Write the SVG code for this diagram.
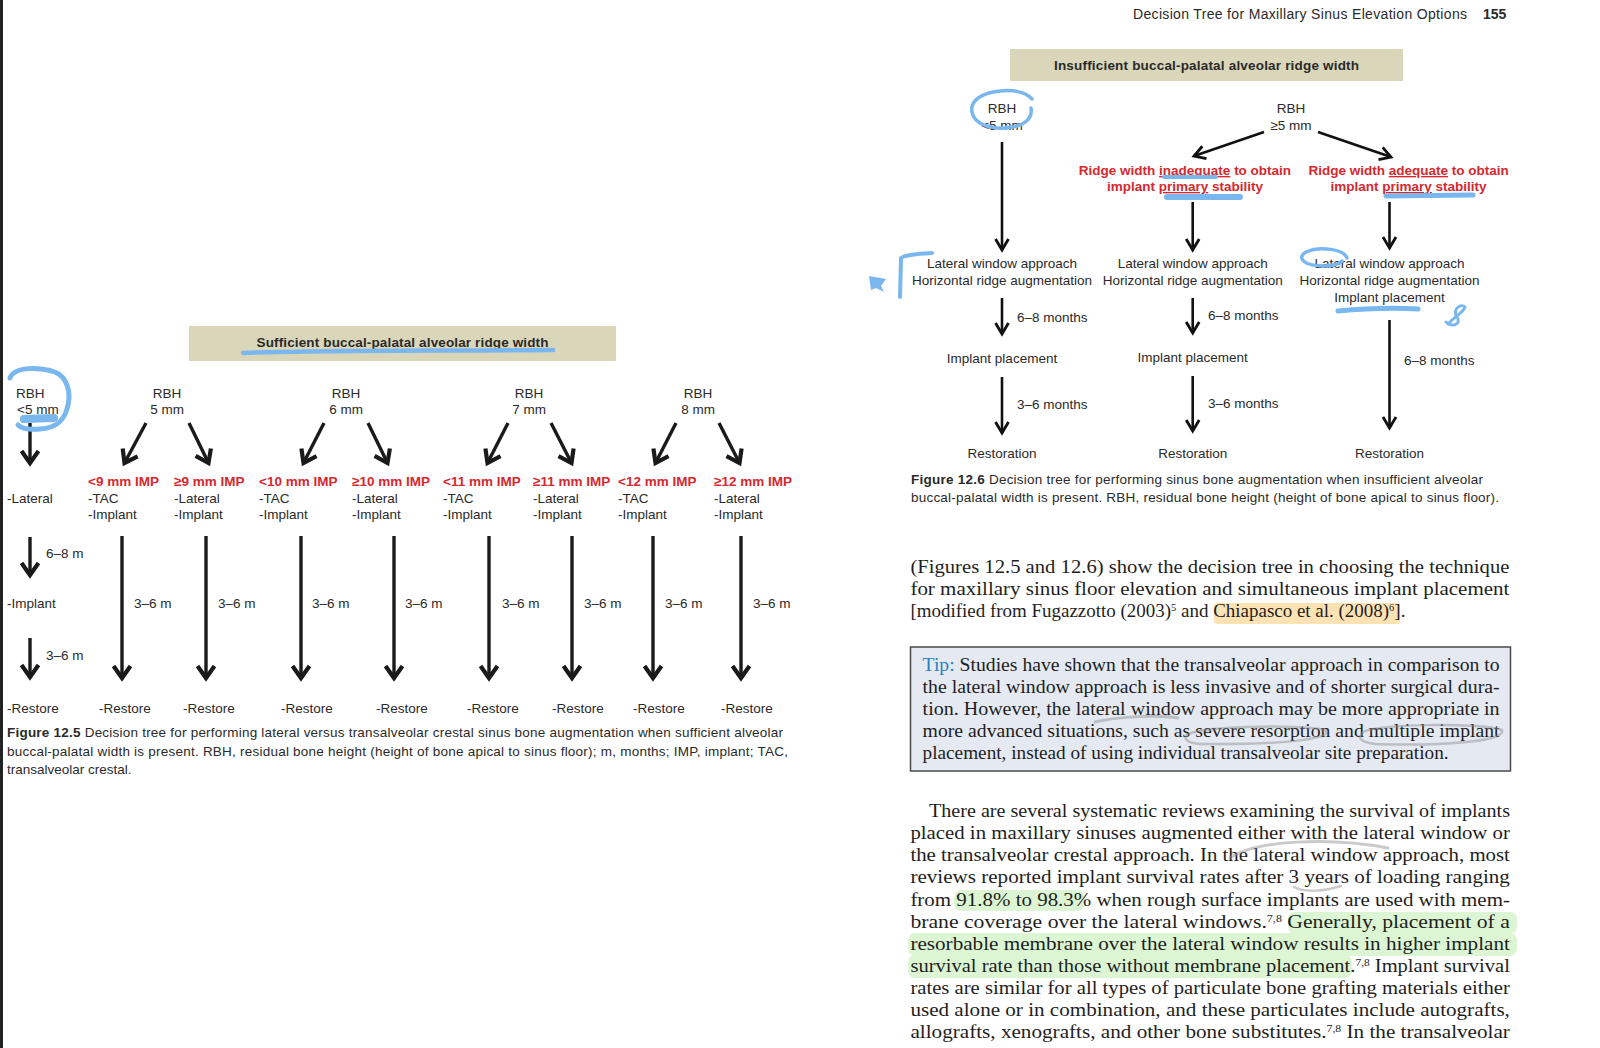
<svg xmlns="http://www.w3.org/2000/svg" width="1600" height="1048" viewBox="0 0 1600 1048">
<defs>
<style>
.s{font-family:'Liberation Sans',Arial,sans-serif;fill:#2a2a2a;font-size:13.5px}
.b{font-weight:bold}
.r{fill:#d6282e;font-weight:bold}
.c{text-anchor:middle}
.sr{font-family:'Liberation Serif','Times New Roman',serif;font-size:18px;fill:#1e1e1e}
.aL{stroke:#1a1a1a;stroke-width:3.4;fill:none;marker-end:url(#hL)}
.aR{stroke:#111;stroke-width:2.6;fill:none;marker-end:url(#hR)}
.bl{stroke:#7ab7ee;fill:none;stroke-linecap:round;stroke-linejoin:round}
.gr{stroke:#8a8a8a;fill:none;stroke-opacity:.45;stroke-linecap:round}
.banner{fill:#dad6b9}
</style>
<marker id="hL" markerUnits="userSpaceOnUse" markerWidth="1" markerHeight="1" refX="0" refY="0" orient="auto" style="overflow:visible"><path d="M-12,-8.5 L0,0 L-12,8.5" fill="none" stroke="#1a1a1a" stroke-width="4.2"/></marker>
<marker id="hR" markerUnits="userSpaceOnUse" markerWidth="1" markerHeight="1" refX="0" refY="0" orient="auto" style="overflow:visible"><path d="M-11,-6.5 L0,0 L-11,6.5" fill="none" stroke="#111" stroke-width="2.8"/></marker>
</defs>
<rect x="0" y="0" width="1600" height="1048" fill="#ffffff"/>
<rect x="0" y="0" width="3" height="1048" fill="#222"/>

<!-- ===== Figure 12.5 ===== -->
<g id="L-banner"><rect class="banner" x="189" y="326" width="427" height="35"/><text class="s b c" x="402.5" y="347" textLength="292">Sufficient buccal-palatal alveolar ridge width</text></g>
<g id="L-rbh-lt5"><text class="s" x="16" y="398">RBH</text><text class="s" x="17" y="414">&lt;5 mm</text></g>
<g id="L-rbh-5"><text class="s c" x="167" y="398">RBH</text><text class="s c" x="167" y="414">5 mm</text></g>
<g id="L-rbh-6"><text class="s c" x="346" y="398">RBH</text><text class="s c" x="346" y="414">6 mm</text></g>
<g id="L-rbh-7"><text class="s c" x="529" y="398">RBH</text><text class="s c" x="529" y="414">7 mm</text></g>
<g id="L-rbh-8"><text class="s c" x="698" y="398">RBH</text><text class="s c" x="698" y="414">8 mm</text></g>

<g id="L-lateral"><text class="s" x="7" y="503">-Lateral</text></g>
<g id="L-implant"><text class="s" x="7" y="608">-Implant</text></g>
<g id="L-o1"><text class="s r" x="88" y="486">&lt;9 mm IMP</text><text class="s" x="88" y="503">-TAC</text><text class="s" x="88" y="519">-Implant</text></g>
<g id="L-o2"><text class="s r" x="174" y="486">≥9 mm IMP</text><text class="s" x="174" y="503">-Lateral</text><text class="s" x="174" y="519">-Implant</text></g>
<g id="L-o3"><text class="s r" x="259" y="486">&lt;10 mm IMP</text><text class="s" x="259" y="503">-TAC</text><text class="s" x="259" y="519">-Implant</text></g>
<g id="L-o4"><text class="s r" x="352" y="486">≥10 mm IMP</text><text class="s" x="352" y="503">-Lateral</text><text class="s" x="352" y="519">-Implant</text></g>
<g id="L-o5"><text class="s r" x="443" y="486">&lt;11 mm IMP</text><text class="s" x="443" y="503">-TAC</text><text class="s" x="443" y="519">-Implant</text></g>
<g id="L-o6"><text class="s r" x="533" y="486">≥11 mm IMP</text><text class="s" x="533" y="503">-Lateral</text><text class="s" x="533" y="519">-Implant</text></g>
<g id="L-o7"><text class="s r" x="618" y="486">&lt;12 mm IMP</text><text class="s" x="618" y="503">-TAC</text><text class="s" x="618" y="519">-Implant</text></g>
<g id="L-o8"><text class="s r" x="714" y="486">≥12 mm IMP</text><text class="s" x="714" y="503">-Lateral</text><text class="s" x="714" y="519">-Implant</text></g>

<g id="L-restore">
<text class="s" x="7" y="713">-Restore</text><text class="s" x="99" y="713">-Restore</text><text class="s" x="183" y="713">-Restore</text><text class="s" x="281" y="713">-Restore</text><text class="s" x="376" y="713">-Restore</text><text class="s" x="467" y="713">-Restore</text><text class="s" x="552" y="713">-Restore</text><text class="s" x="633" y="713">-Restore</text><text class="s" x="721" y="713">-Restore</text>
</g>

<g id="L-connectors">
<path class="aL" d="M30,423 L30,463"/>
<path class="aL" d="M146,423 L124.5,463"/><path class="aL" d="M189,423 L208.5,463"/>
<path class="aL" d="M324,423 L303.5,463"/><path class="aL" d="M368,423 L387.5,463"/>
<path class="aL" d="M508,423 L487.5,463"/><path class="aL" d="M551,423 L571.5,463"/>
<path class="aL" d="M676,423 L655.5,463"/><path class="aL" d="M719,423 L739.5,463"/>
<path class="aL" d="M30,537 L30,575"/>
<path class="aL" d="M30,638 L30,677"/>
<path class="aL" d="M122,536 L122,678"/><path class="aL" d="M206,536 L206,678"/><path class="aL" d="M301,536 L301,678"/><path class="aL" d="M394,536 L394,678"/>
<path class="aL" d="M489,536 L489,678"/><path class="aL" d="M572,536 L572,678"/><path class="aL" d="M653,536 L653,678"/><path class="aL" d="M741,536 L741,678"/>
<text class="s" x="46" y="558">6–8 m</text>
<text class="s" x="46" y="660">3–6 m</text>
<text class="s" x="134" y="608">3–6 m</text><text class="s" x="218" y="608">3–6 m</text><text class="s" x="312" y="608">3–6 m</text><text class="s" x="405" y="608">3–6 m</text>
<text class="s" x="502" y="608">3–6 m</text><text class="s" x="584" y="608">3–6 m</text><text class="s" x="665" y="608">3–6 m</text><text class="s" x="753" y="608">3–6 m</text>
</g>

<g id="L-caption">
<text class="s" x="7" y="737" textLength="776"><tspan class="b">Figure 12.5</tspan>  Decision tree for performing lateral versus transalveolar crestal sinus bone augmentation when sufficient alveolar</text>
<text class="s" x="7" y="756" textLength="781">buccal-palatal width is present. RBH, residual bone height (height of bone apical to sinus floor); m, months; IMP, implant; TAC,</text>
<text class="s" x="7" y="774">transalveolar crestal.</text>
</g>

<!-- ===== Header ===== -->
<g id="header"><text class="s" x="1133" y="19" textLength="334" style="font-size:14px">Decision Tree for Maxillary Sinus Elevation Options</text><text class="s b" x="1483" y="19" style="font-size:14px">155</text></g>

<!-- ===== Figure 12.6 ===== -->
<g id="R-banner"><rect class="banner" x="1010" y="49" width="393" height="32"/><text class="s b c" x="1206.5" y="70" textLength="305">Insufficient buccal-palatal alveolar ridge width</text></g>
<g id="R-rbh-lt5"><text class="s c" x="1002" y="113">RBH</text><text class="s c" x="1002" y="130">&lt;5 mm</text></g>
<g id="R-rbh-ge5"><text class="s c" x="1291" y="113">RBH</text><text class="s c" x="1291" y="130">≥5 mm</text></g>
<g id="R-inadequate"><text class="s r c" x="1185" y="175">Ridge width <tspan text-decoration="underline">inadequate</tspan> to obtain</text><text class="s r c" x="1185" y="191">implant <tspan text-decoration="underline">primary</tspan> stability</text></g>
<g id="R-adequate"><text class="s r c" x="1408.6" y="175">Ridge width <tspan text-decoration="underline">adequate</tspan> to obtain</text><text class="s r c" x="1408.6" y="191">implant <tspan text-decoration="underline">primary</tspan> stability</text></g>
<g id="R-lw1"><text class="s c" x="1002" y="268">Lateral window approach</text><text class="s c" x="1002" y="285">Horizontal ridge augmentation</text></g>
<g id="R-lw2"><text class="s c" x="1192.7" y="268">Lateral window approach</text><text class="s c" x="1192.7" y="285">Horizontal ridge augmentation</text></g>
<g id="R-lw3"><text class="s c" x="1389.5" y="268">Lateral window approach</text><text class="s c" x="1389.5" y="285">Horizontal ridge augmentation</text><text class="s c" x="1389.5" y="302">Implant placement</text></g>
<g id="R-ip1"><text class="s c" x="1002" y="363">Implant placement</text></g>
<g id="R-ip2"><text class="s c" x="1192.7" y="362">Implant placement</text></g>
<g id="R-rest1"><text class="s c" x="1002" y="458">Restoration</text></g>
<g id="R-rest2"><text class="s c" x="1192.7" y="458">Restoration</text></g>
<g id="R-rest3"><text class="s c" x="1389.5" y="458">Restoration</text></g>

<g id="R-connectors">
<path class="aR" d="M1002,142 L1002,250"/>
<path class="aR" d="M1264,132 L1194,156"/>
<path class="aR" d="M1318,132 L1391,157"/>
<path class="aR" d="M1192.7,202 L1192.7,250"/>
<path class="aR" d="M1389.5,202 L1389.5,248"/>
<path class="aR" d="M1002,298 L1002,334"/>
<path class="aR" d="M1192.7,298 L1192.7,333"/>
<path class="aR" d="M1389.5,320 L1389.5,428"/>
<path class="aR" d="M1002,377 L1002,433"/>
<path class="aR" d="M1192.7,376 L1192.7,431"/>
<text class="s" x="1017" y="322">6–8 months</text>
<text class="s" x="1208" y="320">6–8 months</text>
<text class="s" x="1404" y="365">6–8 months</text>
<text class="s" x="1017" y="409">3–6 months</text>
<text class="s" x="1208" y="408">3–6 months</text>
</g>

<g id="R-caption">
<text class="s" x="911" y="484" textLength="572"><tspan class="b">Figure 12.6</tspan>  Decision tree for performing sinus bone augmentation when insufficient alveolar</text>
<text class="s" x="911" y="502" textLength="588">buccal-palatal width is present. RBH, residual bone height (height of bone apical to sinus floor).</text>
</g>

<!-- ===== Body text ===== -->
<g id="highlights">
<rect x="1214" y="603" width="186" height="21" rx="3" fill="#fde2b3"/>
<rect x="954" y="890" width="131" height="21" rx="7" fill="#dcf6d3"/>
<rect x="1288" y="912" width="229" height="22" rx="7" fill="#dcf6d3"/>
<rect x="908" y="933" width="609" height="23" rx="7" fill="#dcf6d3"/>
<rect x="908" y="955" width="444" height="23" rx="7" fill="#dcf6d3"/>
</g>
<g id="para1">
<text class="sr" x="910.4" y="573" textLength="599" lengthAdjust="spacingAndGlyphs">(Figures 12.5 and 12.6) show the decision tree in choosing the technique</text>
<text class="sr" x="910.4" y="595" textLength="599" lengthAdjust="spacingAndGlyphs">for maxillary sinus floor elevation and simultaneous implant placement</text>
<text class="sr" x="910.4" y="617" textLength="495" lengthAdjust="spacingAndGlyphs">[modified from Fugazzotto (2003)<tspan font-size="10" dy="-6">5</tspan><tspan dy="6"> and Chiapasco et al. (2008)</tspan><tspan font-size="10" dy="-6">6</tspan><tspan dy="6">].</tspan></text>
</g>
<g id="tip">
<rect x="910.5" y="647" width="600" height="124" fill="#e4e9f2" stroke="#4a4a4a" stroke-width="1.5"/>
<text class="sr" x="922.6" y="671" textLength="577" lengthAdjust="spacingAndGlyphs"><tspan fill="#2f7fc0">Tip:</tspan> Studies have shown that the transalveolar approach in comparison to</text>
<text class="sr" x="922.6" y="693" textLength="577" lengthAdjust="spacingAndGlyphs">the lateral window approach is less invasive and of shorter surgical dura-</text>
<text class="sr" x="922.6" y="715" textLength="577" lengthAdjust="spacingAndGlyphs">tion. However, the lateral window approach may be more appropriate in</text>
<text class="sr" x="922.6" y="737" textLength="577" lengthAdjust="spacingAndGlyphs">more advanced situations, such as severe resorption and multiple implant</text>
<text class="sr" x="922.6" y="759" textLength="526" lengthAdjust="spacingAndGlyphs">placement, instead of using individual transalveolar site preparation.</text>
</g>
<g id="para2">
<text class="sr" x="929" y="817" textLength="581" lengthAdjust="spacingAndGlyphs">There are several systematic reviews examining the survival of implants</text>
<text class="sr" x="910.4" y="839" textLength="599.5" lengthAdjust="spacingAndGlyphs">placed in maxillary sinuses augmented either with the lateral window or</text>
<text class="sr" x="910.4" y="861" textLength="599.5" lengthAdjust="spacingAndGlyphs">the transalveolar crestal approach. In the lateral window approach, most</text>
<text class="sr" x="910.4" y="883" textLength="599.5" lengthAdjust="spacingAndGlyphs">reviews reported implant survival rates after 3 years of loading ranging</text>
<text class="sr" x="910.4" y="905.5" textLength="599.5" lengthAdjust="spacingAndGlyphs">from 91.8% to 98.3% when rough surface implants are used with mem-</text>
<text class="sr" x="910.4" y="927.5" textLength="599.5" lengthAdjust="spacingAndGlyphs">brane coverage over the lateral windows.<tspan font-size="10" dy="-6">7,8</tspan><tspan dy="6"> Generally, placement of a</tspan></text>
<text class="sr" x="910.4" y="949.5" textLength="599.5" lengthAdjust="spacingAndGlyphs">resorbable membrane over the lateral window results in higher implant</text>
<text class="sr" x="910.4" y="972" textLength="599.5" lengthAdjust="spacingAndGlyphs">survival rate than those without membrane placement.<tspan font-size="10" dy="-6">7,8</tspan><tspan dy="6"> Implant survival</tspan></text>
<text class="sr" x="910.4" y="994" textLength="599.5" lengthAdjust="spacingAndGlyphs">rates are similar for all types of particulate bone grafting materials either</text>
<text class="sr" x="910.4" y="1016" textLength="599.5" lengthAdjust="spacingAndGlyphs">used alone or in combination, and these particulates include autografts,</text>
<text class="sr" x="910.4" y="1038" textLength="599.5" lengthAdjust="spacingAndGlyphs">allografts, xenografts, and other bone substitutes.<tspan font-size="10" dy="-6">7,8</tspan><tspan dy="6"> In the transalveolar</tspan></text>
</g>

<!-- ===== Annotations ===== -->
<g id="annotations">
<path class="bl" stroke-width="5" d="M10,378 C14,366 40,367 55,372 C67,377 71,392 68,405 C65,420 57,428 40,429 C29,430 21,428 18,425"/>
<path class="bl" stroke-width="8" d="M24,419 L54,418"/>
<path class="bl" stroke-width="4.5" d="M243,353 C320,350 450,351 553,350"/>
<path class="bl" stroke-width="3.5" d="M1032,99 C1024,90 1010,90 1000,91 C982,93 970,100 972,112 C974,124 990,129 1005,128 C1022,127 1033,120 1031,108"/>
<path class="bl" stroke-width="4" d="M932,253 C922,254 906,254 901,258 L900,297"/>
<path d="M869,276 L886,279 L881,286 L884,292 L876,288 L871,290 Z" fill="#7ab7ee"/>
<path class="bl" stroke-width="4" d="M1164,177 L1216,177"/>
<path class="bl" stroke-width="6" d="M1167,197 L1240,197"/>
<path class="bl" stroke-width="5" d="M1386,196 L1473,195"/>
<path class="bl" stroke-width="3.5" d="M1347,258 C1344,249 1320,246 1306,252 C1296,258 1304,266 1324,266 C1334,266 1341,263 1342,261"/>
<path class="bl" stroke-width="5" d="M1338,311 C1370,308 1400,308 1418,309"/>
<path class="bl" stroke-width="3" d="M1448,324 C1455,316 1463,313 1465,307 C1461,303 1452,309 1457,317 C1462,324 1452,328 1446,322"/>
<path class="gr" stroke-width="3" d="M1230,858 C1255,840 1330,837 1388,848"/>
<path class="gr" stroke-width="2.5" d="M1294,887 C1305,893 1325,891 1341,886"/>
<path class="gr" stroke-width="3" d="M1095,722 C1120,716 1160,715 1178,718"/>
<path class="gr" stroke-width="2.5" d="M1186,736 C1192,726 1300,724 1325,730 C1335,738 1290,745 1200,744 C1189,743 1184,740 1186,736"/>
<path class="gr" stroke-width="2.5" d="M1362,733 C1370,724 1480,722 1502,730 C1506,742 1440,746 1375,744 C1360,742 1358,738 1362,733"/>
</g>
</svg>
